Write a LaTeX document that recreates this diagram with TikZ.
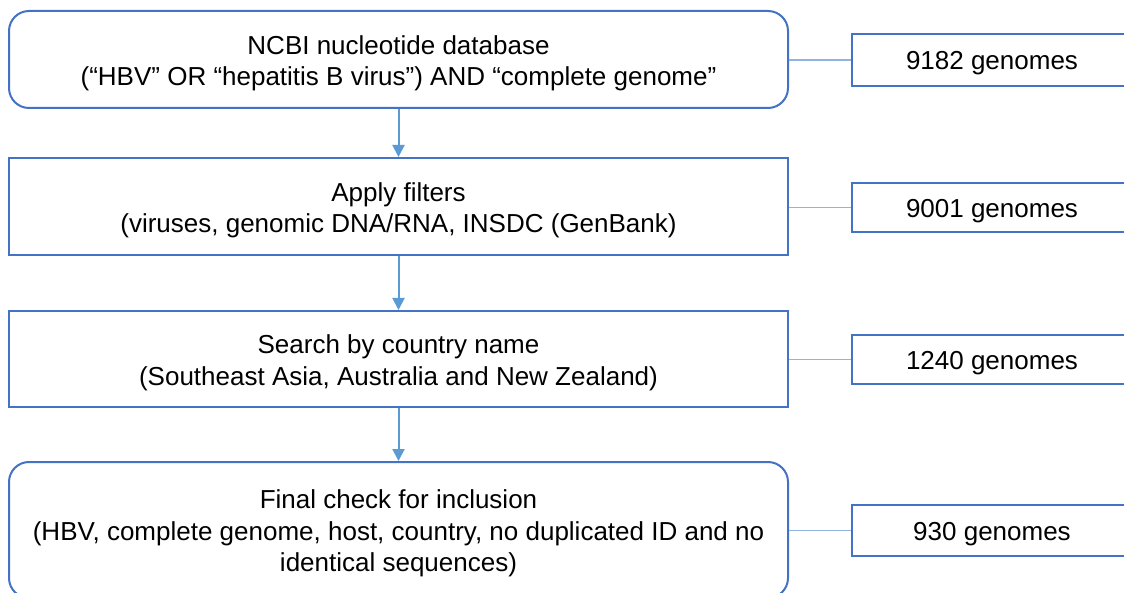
\documentclass[tikz,border=0pt]{standalone}
\usepackage{fontspec}
\setmainfont{Liberation Sans}
\usetikzlibrary{arrows.meta}
\definecolor{boxblue}{HTML}{4472C4}
\definecolor{arrblue}{HTML}{5B9BD5}
\definecolor{lineblue}{HTML}{8FB4E3}
\newcommand{\tstrut}{\rule{0pt}{26pt}}
\begin{document}
\begin{tikzpicture}[x=1pt,y=-1pt,
  every node/.style={font=\fontsize{26}{31.5}\selectfont, text=black},
  mainbox/.style={draw=boxblue, line width=2pt, minimum width=779pt, align=center, inner sep=0pt},
  sidebox/.style={draw=boxblue, line width=2pt, minimum width=280pt, anchor=west, inner sep=0pt,
    execute at begin node={\rule{0pt}{25pt}}},
  flow/.style={draw=arrblue, line width=2pt, -{Triangle[length=12pt,width=12pt]}},
  link/.style={draw=lineblue, line width=1.2pt}]
\clip (0,0) rectangle (1124,593);
\fill[white] (0,0) rectangle (1124,593);
\node[mainbox, rounded corners=20pt, minimum height=97pt] (b1) at (398.5,59.5)
  {\tstrut NCBI nucleotide database\\(“HBV” OR “hepatitis B virus”) AND “complete genome”};
\node[mainbox, minimum height=97pt] (b2) at (398.5,206.5)
  {\tstrut Apply filters\\(viruses, genomic DNA/RNA, INSDC (GenBank)};
\node[mainbox, minimum height=96pt] (b3) at (398.5,359)
  {\tstrut Search by country name\\(Southeast Asia, Australia and New Zealand)};
\node[mainbox, rounded corners=20pt, minimum height=136pt] (b4) at (398.5,530)
  {\tstrut Final check for inclusion\\(HBV, complete genome, host, country, no duplicated ID and no\\identical sequences)};
\node[sidebox, minimum height=52pt] (r1) at (851,60) {9182 genomes};
\node[sidebox, minimum height=49pt] (r2) at (851,207.5) {9001 genomes};
\node[sidebox, minimum height=49pt] (r3) at (851,359.5) {1240 genomes};
\node[sidebox, minimum height=51pt] (r4) at (851,530.5) {930 genomes};
\draw[flow] (b1.south) -- (b2.north);
\draw[flow] (b2.south) -- (b3.north);
\draw[flow] (b3.south) -- (b4.north);
\draw[link] (b1.east |- r1.west) -- (r1.west);
\draw[link] (b2.east |- r2.west) -- (r2.west);
\draw[link] (b3.east |- r3.west) -- (r3.west);
\draw[link] (b4.east |- r4.west) -- (r4.west);
\end{tikzpicture}
\end{document}
